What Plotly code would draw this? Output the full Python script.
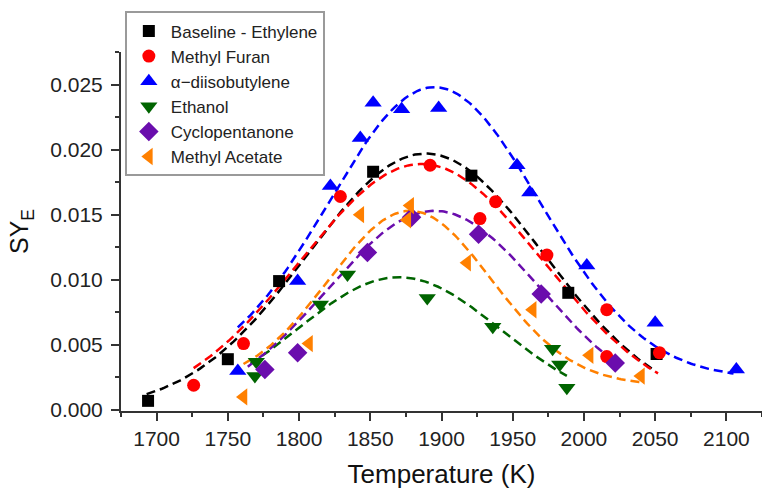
import numpy as np
import plotly.graph_objects as go

# Measured soot yield SY_E versus temperature for each fuel blend
names = ["Baseline - Ethylene", "Methyl Furan", "\u03b1\u2212diisobutylene",
         "Ethanol", "Cyclopentanone", "Methyl Acetate"]

t_ethylene = [1694, 1750, 1786, 1852, 1921, 1989, 2051]
y_ethylene = [0.0007, 0.0039, 0.0099, 0.0183, 0.0180, 0.0090, 0.0043]

t_furan = [1726, 1761, 1829, 1892, 1927, 1938, 1974, 2016, 2016, 2053]
y_furan = [0.0019, 0.0051, 0.0164, 0.0188, 0.0147, 0.0160, 0.0119, 0.0077, 0.0041, 0.0044]

t_dib = [1757, 1799, 1822, 1843, 1852, 1872, 1898, 1953, 1962, 2002, 2050, 2107]
y_dib = [0.0030, 0.0099, 0.0172, 0.0209, 0.0236, 0.0231, 0.0232, 0.0188, 0.0167, 0.0111, 0.0067, 0.0031]

t_ethanol = [1769, 1770, 1815, 1834, 1890, 1936, 1978, 1983, 1988]
y_ethanol = [0.0026, 0.0037, 0.0081, 0.0104, 0.0086, 0.0064, 0.0047, 0.0035, 0.0017]

t_cyclo = [1776, 1799, 1848, 1879, 1926, 1970, 2022]
y_cyclo = [0.0031, 0.0044, 0.0121, 0.0148, 0.0135, 0.0089, 0.0036]

t_acetate = [1761, 1807, 1843, 1876, 1878, 1918, 1964, 2004, 2040]
y_acetate = [0.0010, 0.0051, 0.0150, 0.0146, 0.0157, 0.0113, 0.0077, 0.0042, 0.0026]

# Gaussian fit parameters per fuel: y0 + A*exp(-(T-Tc)^2 / (2 w^2))
fit_offset = [0.0, 0.0, 0.0024, 0.0, 0.0, 0.0019]
fit_peak = [0.0197, 0.0189, 0.0224, 0.0102, 0.0153, 0.0134]
fit_center = [1889, 1886, 1895, 1870, 1895, 1878]
fit_width = [83, 85, 74, 71.5, 75, 57]
fit_tmin = [1693, 1726, 1757, 1766, 1764, 1761]
fit_tmax = [2050, 2052, 2105, 1988, 2025, 2040]

temps = [t_ethylene, t_furan, t_dib, t_ethanol, t_cyclo, t_acetate]
yields = [y_ethylene, y_furan, y_dib, y_ethanol, y_cyclo, y_acetate]

colors = ["#000000", "#ff0000", "#0000ff", "#006400", "#6a0dad", "#ff8000"]
symbols = ["square", "circle", "triangle-up", "triangle-down", "diamond", "triangle-left"]
sizes = [12, 13, 15, 15, 15, 15]

FONT = "Arial, Liberation Sans, sans-serif"

fig = go.Figure()

for i in range(len(names)):
    tt = np.linspace(fit_tmin[i], fit_tmax[i], 200)
    yy = fit_offset[i] + fit_peak[i] * np.exp(-(tt - fit_center[i]) ** 2 / (2 * fit_width[i] ** 2))
    fig.add_trace(go.Scatter(
        x=tt, y=yy, mode="lines", showlegend=False, hoverinfo="skip",
        line=dict(color=colors[i], width=2.5, dash="9px,5px"),
    ))

for i in range(len(names)):
    fig.add_trace(go.Scatter(
        x=temps[i], y=yields[i], mode="markers", name=names[i],
        marker=dict(symbol=symbols[i], color=colors[i], size=sizes[i],
                    line=dict(width=0)),
    ))

axis_common = dict(
    showline=True, linecolor="#333333", linewidth=2,
    ticks="outside", ticklen=8, tickwidth=2, tickcolor="#333333",
    showgrid=False, zeroline=False, mirror=False,
    tickfont=dict(family=FONT, size=21, color="#222222"),
)

fig.update_layout(
    width=762, height=491,
    margin=dict(l=121, r=0, t=52, b=80),
    paper_bgcolor="white", plot_bgcolor="white",
    font=dict(family=FONT, color="#111111"),
    xaxis=dict(
        range=[1675, 2125], dtick=50, tick0=1700,
        minor=dict(ticks="outside", ticklen=4, tickwidth=2, dtick=25, tickcolor="#333333"),
        title=dict(text="Temperature (K)", font=dict(family=FONT, size=26), standoff=16),
        **axis_common,
    ),
    yaxis=dict(
        range=[-0.00008, 0.0275], dtick=0.005, tick0=0, tickformat=".3f",
        minor=dict(ticks="outside", ticklen=4, tickwidth=2, dtick=0.0025, tickcolor="#333333"),
        title=dict(text="SY<sub>E</sub>", font=dict(family=FONT, size=25), standoff=14),
        ticklabelstandoff=4,
        **axis_common,
    ),
    legend=dict(
        x=0.006, y=1.113, xanchor="left", yanchor="top",
        font=dict(family=FONT, size=17, color="#222222"),
        bgcolor="white", bordercolor="#9a9a9a", borderwidth=2,
        itemwidth=34,
    ),
)

fig.write_html("out.html")
